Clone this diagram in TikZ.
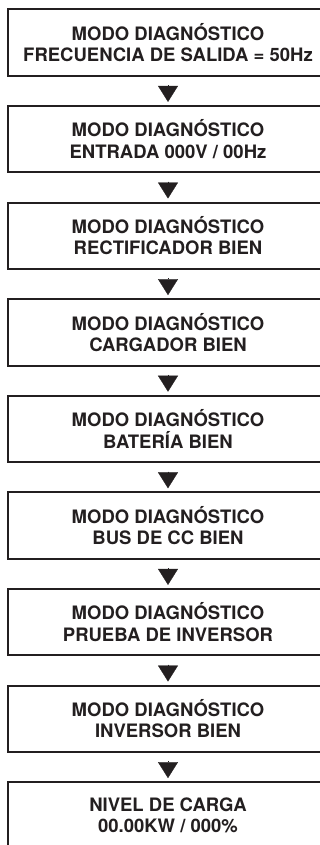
\documentclass[tikz,border=0pt]{standalone}
\usepackage{fontspec}
\setmainfont{TeX Gyre Heros}
\usepackage{tikz}
\usetikzlibrary{arrows.meta,positioning}
\definecolor{inkblack}{HTML}{231F20}
\tikzset{
  screenbox/.style={
    draw=inkblack,
    line width=2pt,
    outer sep=0pt,
    align=center,
    minimum width=320pt,
    minimum height=66.5pt,
    inner sep=3pt,
    text=inkblack,
    font=\bfseries\fontsize{18.5pt}{21.5pt}\selectfont
  },
  stepflow/.style={
    -{Triangle[width=20pt,length=16pt]},
    line width=0.3pt,
    draw=inkblack,
    fill=inkblack,
    shorten <=9.3pt,
    shorten >=4pt
  }
}

\begin{document}
\begin{tikzpicture}[node distance=30.1pt]
  \clip (0,0) rectangle (320pt,-845pt);
  \node[screenbox] (freq) at (168pt,-42.55pt) {MODO DIAGNÓSTICO\\FRECUENCIA DE SALIDA = 50Hz};
  \node[screenbox,below=of freq] (entrada) {MODO DIAGNÓSTICO\\ENTRADA 000V / 00Hz};
  \node[screenbox,below=of entrada] (rectif) {MODO DIAGNÓSTICO\\RECTIFICADOR BIEN};
  \node[screenbox,below=of rectif] (cargador) {MODO DIAGNÓSTICO\\CARGADOR BIEN};
  \node[screenbox,below=of cargador] (bateria) {MODO DIAGNÓSTICO\\BATERÍA BIEN};
  \node[screenbox,below=of bateria] (buscc) {MODO DIAGNÓSTICO\\BUS DE CC BIEN};
  \node[screenbox,below=of buscc] (prueba) {MODO DIAGNÓSTICO\\PRUEBA DE INVERSOR};
  \node[screenbox,below=of prueba] (inversor) {MODO DIAGNÓSTICO\\INVERSOR BIEN};
  \node[screenbox,below=of inversor] (nivel) {NIVEL DE CARGA\\00.00KW / 000\%};
  \draw[stepflow] (freq) -- (entrada);
  \draw[stepflow] (entrada) -- (rectif);
  \draw[stepflow] (rectif) -- (cargador);
  \draw[stepflow] (cargador) -- (bateria);
  \draw[stepflow] (bateria) -- (buscc);
  \draw[stepflow] (buscc) -- (prueba);
  \draw[stepflow] (prueba) -- (inversor);
  \draw[stepflow] (inversor) -- (nivel);
\end{tikzpicture}
\end{document}
